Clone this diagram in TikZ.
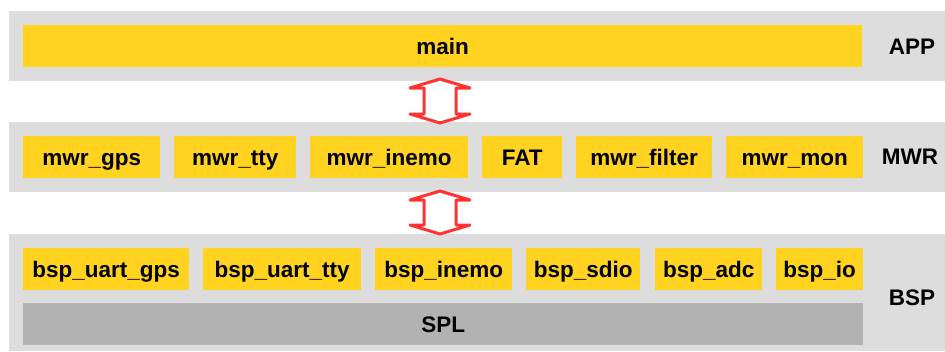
\documentclass[tikz,border=0pt]{standalone}
\usepackage{fontspec}
\setmainfont{Liberation Sans}
\definecolor{bandgray}{HTML}{DDDDDD}
\definecolor{modyellow}{HTML}{FFD320}
\definecolor{splgray}{HTML}{B2B2B2}
\definecolor{arrowred}{HTML}{FF3333}
\begin{document}
\begin{tikzpicture}[x=1pt,y=-1pt,
  txt/.style={font=\fontsize{22.5}{26}\selectfont\bfseries, text=black},
  band/.style={fill=bandgray, draw=none, anchor=north west, inner sep=0pt},
  module/.style={txt, fill=modyellow, draw=none, anchor=north west, inner sep=0pt,
    minimum height=42pt, text height=20pt, text depth=4pt},
  lib/.style={module, fill=splgray},
  layerlabel/.style={txt},
  arrowline/.style={draw=arrowred, fill=white, line width=3pt, line join=round},
  pics/dblarrow/.style={code={
    \draw[arrowline] (0,0) -- (-30,9) -- (-16,9) -- (-16,#1-9) -- (-30,#1-9) -- (0,#1)
      -- (30,#1-9) -- (16,#1-9) -- (16,9) -- (30,9) -- cycle;
  }}]
\useasboundingbox (0,0) rectangle (945,351);

% layer bands
\node[band, minimum width=936pt, minimum height=70pt] (appband) at (9,11) {};
\node[band, minimum width=936pt, minimum height=70pt] (mwrband) at (9,122) {};
\node[band, minimum width=936pt, minimum height=117pt] (bspband) at (9,234) {};

% application layer
\node[module, minimum width=839pt] (main) at (23,25) {main};
\node[layerlabel] (applbl) at (912,47) {APP};

% middleware layer
\node[module, minimum width=137pt] (mwrgps) at (23,136) {mwr\_gps};
\node[module, minimum width=122pt] (mwrtty) at (174,136) {mwr\_tty};
\node[module, minimum width=158pt] (mwrinemo) at (310,136) {mwr\_inemo};
\node[module, minimum width=80pt] (fat) at (482,136) {FAT};
\node[module, minimum width=136pt] (mwrfilter) at (576,136) {mwr\_filter};
\node[module, minimum width=137pt] (mwrmon) at (726,136) {mwr\_mon};
\node[layerlabel] (mwrlbl) at (910,157) {MWR};

% board support layer
\node[module, minimum width=166pt] (bspuartgps) at (23,248) {bsp\_uart\_gps};
\node[module, minimum width=158pt] (bspuarttty) at (203,248) {bsp\_uart\_tty};
\node[module, minimum width=137pt] (bspinemo) at (375,248) {bsp\_inemo};
\node[module, minimum width=114pt] (bspsdio) at (526,248) {bsp\_sdio};
\node[module, minimum width=107pt] (bspadc) at (655,248) {bsp\_adc};
\node[module, minimum width=87pt] (bspio) at (776,248) {bsp\_io};
\node[lib, minimum width=840pt] (spl) at (23,303) {SPL};
\node[layerlabel] (bsplbl) at (912,298) {BSP};

% interfaces between layers
\pic at (440,79) {dblarrow=44};
\pic at (440,191) {dblarrow=43};
\end{tikzpicture}
\end{document}
